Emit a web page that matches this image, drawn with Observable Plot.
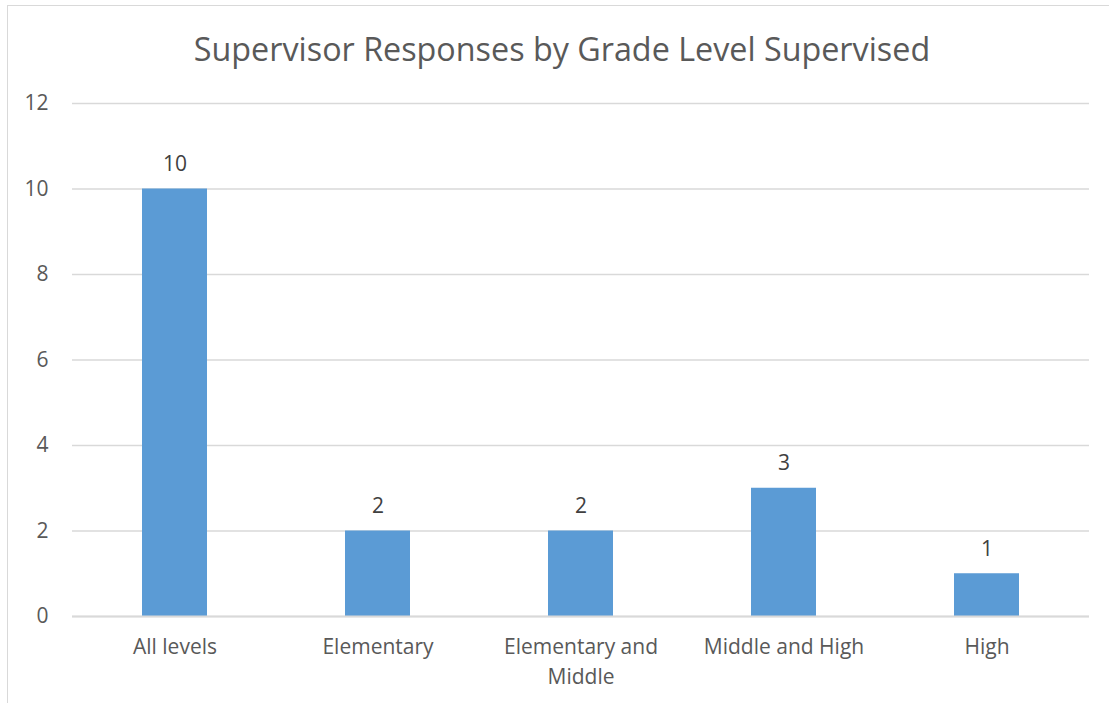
<!DOCTYPE html>
<html>
<head>
<meta charset="utf-8">
<script src="https://cdn.jsdelivr.net/npm/d3@7"></script>
<script src="https://cdn.jsdelivr.net/npm/@observablehq/plot@0.6"></script>
<style>
  html, body { margin: 0; padding: 0; background: #fff; }
  #wrap { position: relative; width: 1109px; height: 703px; overflow: hidden; font-family: "Open Sans", sans-serif; }
  #frame { position: absolute; left: 7px; top: 5px; width: 1200px; height: 800px; border: 1px solid #d9d9d9; box-sizing: border-box; }
  #title { position: absolute; left: 0; width: 1124px; top: 26px; text-align: center; font-size: 32.3px; color: #595959; line-height: 44px; }
  #chart { position: absolute; left: 0; top: 80px; }
</style>
</head>
<body>
<div id="wrap">
  <div id="frame"></div>
  <div id="title">Supervisor Responses by Grade Level Supervised</div>
  <div id="chart"></div>
</div>
<script>
const categories = ["All levels", "Elementary", "Elementary and Middle", "Middle and High", "High"];
const tickLabels = ["All levels", "Elementary", "Elementary and\nMiddle", "Middle and High", "High"];
const counts = [10, 2, 2, 3, 1];
const yTicks = [0, 2, 4, 6, 8, 10, 12];

const data = categories.map((c, i) => ({category: c, count: counts[i]}));
const labelOf = new Map(categories.map((c, i) => [c, tickLabels[i]]));

const chart = Plot.plot({
  width: 1109,
  height: 623,
  marginTop: 23,
  marginBottom: 87,
  marginLeft: 72,
  marginRight: 20,
  style: {fontFamily: "'Open Sans', sans-serif", fontSize: "21px", color: "#595959", background: "transparent"},
  x: {domain: categories, paddingInner: 0.68, paddingOuter: 0.34, label: null},
  y: {domain: [0, 12], label: null},
  marks: [
    Plot.gridY(yTicks, {stroke: "#d9d9d9", strokeOpacity: 1, strokeWidth: 1.5}),
    Plot.barY(data, {x: "category", y: "count", fill: "#5b9bd5"}),
    Plot.ruleY([0], {stroke: "#d9d9d9", strokeWidth: 2}),
    Plot.text(data, {x: "category", y: "count", text: d => String(d.count), dy: -18, lineAnchor: "bottom", fill: "#404040", fontSize: 21}),
    Plot.axisY(yTicks, {tickSize: 0, tickPadding: 24, fill: "#595959", fontSize: 21}),
    Plot.axisX({tickSize: 0, tickPadding: 16, tickFormat: d => labelOf.get(d), fill: "#595959", fontSize: 21, lineHeight: 1.43})
  ]
});
document.getElementById("chart").appendChild(chart);
</script>
</body>
</html>
